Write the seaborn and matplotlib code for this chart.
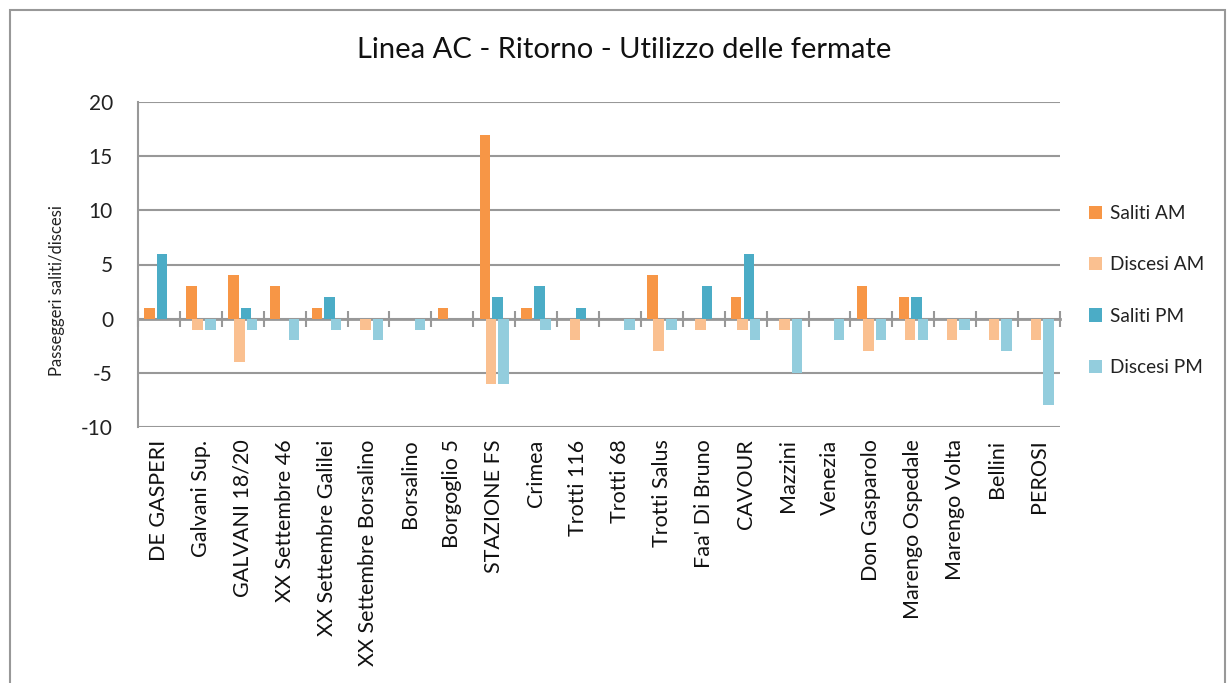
import matplotlib
matplotlib.use("Agg")
import matplotlib.pyplot as plt
from matplotlib.patches import Rectangle
import seaborn as sns
import numpy as np
import pandas as pd

fermate = ["DE GASPERI", "Galvani Sup.", "GALVANI 18/20", "XX Settembre 46",
           "XX Settembre Galilei", "XX Settembre Borsalino", "Borsalino",
           "Borgoglio 5", "STAZIONE FS", "Crimea", "Trotti 116", "Trotti 68",
           "Trotti Salus", "Faa' Di Bruno", "CAVOUR", "Mazzini", "Venezia",
           "Don Gasparolo", "Marengo Ospedale", "Marengo Volta", "Bellini", "PEROSI"]

saliti_am = [1, 3, 4, 3, 1, 0, 0, 1, 17, 1, 0, 0, 4, 0, 2, 0, 0, 3, 2, 0, 0, 0]
discesi_am = [0, -1, -4, 0, 0, -1, 0, 0, -6, 0, -2, 0, -3, -1, -1, -1, 0, -3, -2, -2, -2, -2]
saliti_pm = [6, 0, 1, 0, 2, 0, 0, 0, 2, 3, 1, 0, 0, 3, 6, 0, 0, 0, 2, 0, 0, 0]
discesi_pm = [0, -1, -1, -2, -1, -2, -1, 0, -6, -1, 0, -1, -1, 0, -2, -5, -2, -2, -2, -1, -3, -8]

serie = ["Saliti AM", "Discesi AM", "Saliti PM", "Discesi PM"]
colori = ["#F79646", "#FAC090", "#4BACC6", "#93CDDD"]
y_ticks = [-10, -5, 0, 5, 10, 15, 20]

df = pd.DataFrame({
    "fermata": fermate * 4,
    "serie": np.repeat(serie, len(fermate)),
    "valore": saliti_am + discesi_am + saliti_pm + discesi_pm,
})

sns.set_style("white")
plt.rcParams['font.family'] = ['Lato', 'DejaVu Sans']
plt.rcParams['axes.unicode_minus'] = False

grigio = "#989898"

fig = plt.figure(figsize=(12.28, 6.83), dpi=100)
ax = fig.add_axes([138 / 1228, 1 - 427 / 683, 922 / 1228, 325 / 683])

sns.barplot(data=df, x="fermata", y="valore", hue="serie", hue_order=serie,
            palette=colori, width=0.6, dodge=True, linewidth=0, saturation=1,
            ax=ax, zorder=2)

# barre larghe che si sovrappongono come in Excel
for p in ax.patches:
    p.set_x(p.get_x() - 0.05)
    p.set_width(0.25)

ax.set_xlim(-0.5, len(fermate) - 0.5)
ax.set_ylim(y_ticks[0], y_ticks[-1])
ax.set_yticks(y_ticks)
ax.yaxis.grid(True, color=grigio, linewidth=1.5)
ax.set_axisbelow(True)
ax.tick_params(axis="y", direction="out", length=6, width=1.5, color=grigio,
               labelsize=15, pad=12, labelcolor="#222222")
ax.tick_params(axis="x", length=0, labelsize=15.5, pad=9, labelcolor="#111111")
plt.setp(ax.get_xticklabels(), rotation=90)
for s in ["top", "right", "bottom"]:
    ax.spines[s].set_visible(False)
ax.spines["left"].set_color(grigio)
ax.spines["left"].set_linewidth(1.5)
ax.set_xlabel("")
ax.set_ylabel("Passeggeri saliti/discesi", fontsize=12, color="#222222")
ax.yaxis.set_label_coords(-0.079, 0.42)

# asse orizzontale sullo zero con le tacche tra le categorie
zero_pos = (0 - y_ticks[0]) / (y_ticks[-1] - y_ticks[0])
sec = ax.secondary_xaxis(zero_pos)
sec.set_xticks(np.arange(len(fermate) + 1) - 0.5)
sec.set_xticklabels([])
sec.tick_params(direction="inout", length=11, width=1.5, color=grigio)
sec.spines["bottom"].set_color(grigio)
sec.spines["bottom"].set_linewidth(2)
for s in ["top", "left", "right"]:
    sec.spines[s].set_visible(False)

handles, labels = ax.get_legend_handles_labels()
ax.legend(handles, labels, frameon=False, loc="center left",
          bbox_to_anchor=(1.013, 0.42), fontsize=13.7, labelspacing=1.8,
          handlelength=0.7, handleheight=0.7, handletextpad=0.4,
          labelcolor="#222222")

fig.text(624 / 1228, 1 - 50 / 683, "Linea AC - Ritorno - Utilizzo delle fermate",
         ha="center", va="center", fontsize=21, color="#111111")

fig.patches.append(Rectangle((10 / 1228, -0.1), 1215 / 1228, 1.1 - 10 / 683,
                             transform=fig.transFigure, fill=False,
                             edgecolor=grigio, linewidth=1.5))

fig.savefig("out.png", dpi=100)
